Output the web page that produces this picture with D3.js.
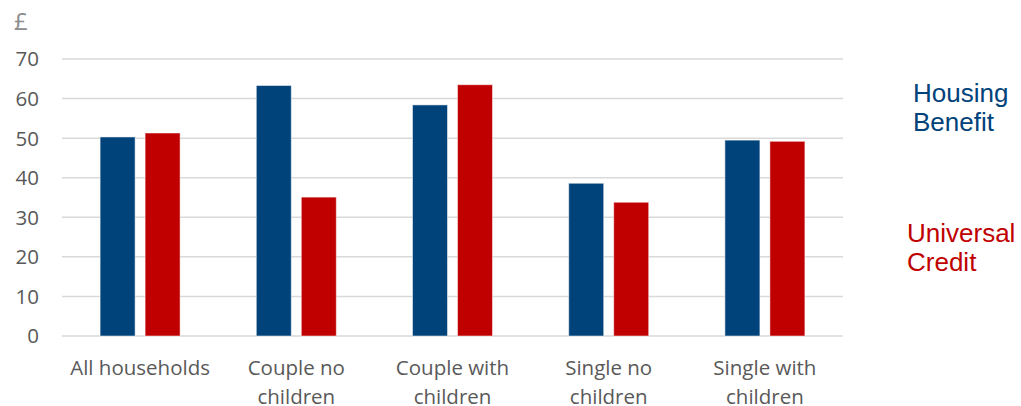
<!DOCTYPE html>
<html>
<head>
<meta charset="utf-8">
<script src="https://cdn.jsdelivr.net/npm/d3@7"></script>
<style>
  body { margin: 0; background: #fff; }
  svg { display: block; font-family: "Open Sans", "DejaVu Sans", sans-serif; }
</style>
</head>
<body>
<div id="chart"></div>
<script>
// data
const categories = ["All households", "Couple no children", "Couple with children", "Single no children", "Single with children"];
const categoryLines = [["All households"], ["Couple no", "children"], ["Couple with", "children"], ["Single no", "children"], ["Single with", "children"]];
const seriesNames = ["Housing Benefit", "Universal Credit"];
const housingBenefit = [50.3, 63.3, 58.4, 38.6, 49.5];
const universalCredit = [51.3, 35.1, 63.5, 33.8, 49.2];
const yTicks = [0, 10, 20, 30, 40, 50, 60, 70];

const colors = { hb: "#00427a", uc: "#c00000" };

const width = 1021, height = 406;
const margin = { top: 59, right: 178, bottom: 70, left: 62 };
const innerW = width - margin.left - margin.right;
const innerH = height - margin.top - margin.bottom;

const svg = d3.select("#chart")
  .append("svg")
  .attr("width", width)
  .attr("height", height);

const g = svg.append("g")
  .attr("transform", `translate(${margin.left},${margin.top})`);

const x = d3.scaleBand().domain(categories).range([0, innerW]).padding(0);
const y = d3.scaleLinear().domain([0, 70]).range([innerH, 0]);

// gridlines
g.selectAll(".grid")
  .data(yTicks)
  .enter()
  .append("line")
  .attr("x1", 0)
  .attr("x2", innerW)
  .attr("y1", d => y(d))
  .attr("y2", d => y(d))
  .attr("stroke", "#d9d9d9")
  .attr("stroke-width", 1.5);

// y tick labels
g.selectAll(".ytick")
  .data(yTicks)
  .enter()
  .append("text")
  .attr("x", -23)
  .attr("y", d => y(d))
  .attr("dy", "0.36em")
  .attr("text-anchor", "end")
  .attr("fill", "#595959")
  .style("font-size", "20.5px")
  .text(d => d);

// £ unit label
svg.append("text")
  .attr("x", 14)
  .attr("y", 30)
  .attr("fill", "#8c8c8c")
  .style("font-size", "24px")
  .text("£");

// bars
const barW = 35, gap = 10;
const rows = categories.map((c, i) => ({ cat: c, hb: housingBenefit[i], uc: universalCredit[i] }));

const groups = g.selectAll(".grp")
  .data(rows)
  .enter()
  .append("g")
  .attr("transform", d => `translate(${x(d.cat) + x.bandwidth() / 2},0)`);

groups.append("rect")
  .attr("x", -gap / 2 - barW)
  .attr("y", d => y(d.hb))
  .attr("width", barW)
  .attr("height", d => innerH - y(d.hb))
  .attr("fill", colors.hb)
  .attr("stroke", "#ffffff")
  .attr("stroke-opacity", 0.5)
  .attr("stroke-width", 1);

groups.append("rect")
  .attr("x", gap / 2)
  .attr("y", d => y(d.uc))
  .attr("width", barW)
  .attr("height", d => innerH - y(d.uc))
  .attr("fill", colors.uc)
  .attr("stroke", "#ffffff")
  .attr("stroke-opacity", 0.5)
  .attr("stroke-width", 1);

// category labels
categories.forEach((c, i) => {
  const t = g.append("text")
    .attr("x", x(c) + x.bandwidth() / 2)
    .attr("y", innerH + 39)
    .attr("text-anchor", "middle")
    .attr("fill", "#595959")
    .style("font-size", "20.5px");
  categoryLines[i].forEach((line, j) => {
    t.append("tspan")
      .attr("x", x(c) + x.bandwidth() / 2)
      .attr("dy", j === 0 ? 0 : 28.5)
      .text(line);
  });
});

// legend text on the right
const legend = [
  { lines: ["Housing", "Benefit"], color: colors.hb, x: 913, y: 102 },
  { lines: ["Universal", "Credit"], color: colors.uc, x: 907, y: 242 }
];
legend.forEach(l => {
  const t = svg.append("text")
    .attr("x", l.x)
    .attr("y", l.y)
    .attr("fill", l.color)
    .style("font-family", "'Liberation Sans', Arial, sans-serif")
    .style("font-size", "26px");
  l.lines.forEach((line, j) => {
    t.append("tspan")
      .attr("x", l.x)
      .attr("dy", j === 0 ? 0 : 28.5)
      .text(line);
  });
});
</script>
</body>
</html>
